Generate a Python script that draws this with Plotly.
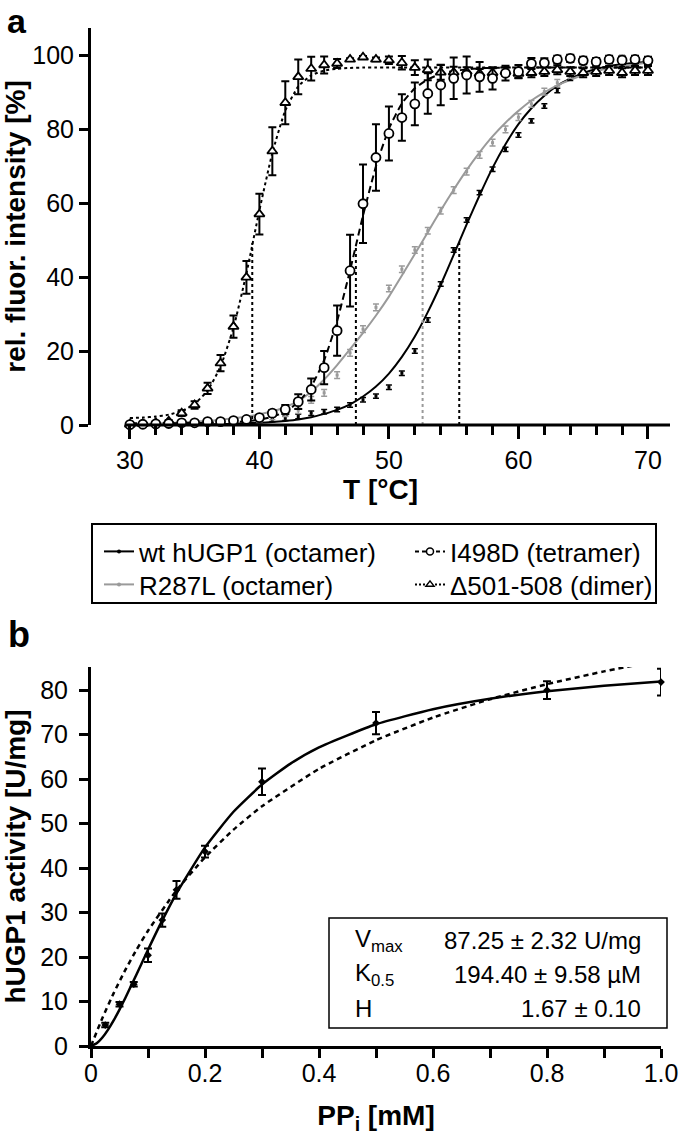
import plotly.graph_objects as go

# ---------------- data: panel a (thermal unfolding) ----------------
temps = list(range(30, 71))

wt_vals = [0.0, 0.1, 0.1, 0.2, 0.3, 0.4, 0.5, 0.6, 0.8, 1.0, 1.2, 1.5,
           1.8, 2.3, 3.2, 3.6, 4.2, 5.4, 6.8, 7.8, 10.2, 14.0, 20.0, 28.4,
           38.1, 47.3, 55.4, 62.8, 69.1, 74.5, 78.4, 82.2, 86.2, 90.4, 93.7, 96.1,
           97.7, 98.8, 97.5, 98.2, 97.4]
wt_err = [0.6] * 41

r287_vals = [0.0, 0.1, 0.2, 0.3, 0.5, 0.6, 0.8, 1.0, 1.1, 1.3, 1.6, 2.3,
             3.2, 4.0, 6.8, 8.7, 13.5, 19.5, 25.9, 31.8, 36.9, 42.1, 47.3, 52.5,
             57.9, 63.5, 68.5, 73.0, 76.3, 79.9, 83.2, 86.8, 90.1, 92.5, 94.6, 96.8,
             98.2, 98.6, 99.1, 98.6, 98.4]
r287_err = [0.9] * 41

i498_vals = [0.1, 0.2, 0.3, 0.4, 0.6, 0.6, 0.9, 0.9, 1.2, 1.5, 2.0, 3.2,
             4.2, 6.3, 9.6, 15.5, 25.5, 41.7, 59.8, 72.3, 78.8, 83.1, 86.8, 89.6,
             91.9, 93.7, 94.6, 94.1, 93.7, 95.1, 95.5, 97.7, 97.9, 98.8, 99.1, 98.5,
             98.2, 98.8, 98.6, 98.8, 98.5]
i498_err = [0.3, 0.3, 0.3, 0.3, 0.3, 0.3, 0.3, 0.3, 0.3, 0.3, 0.6, 0.8,
            1.2, 2.0, 3.0, 4.5, 6.8, 9.7, 10.6, 9.0, 7.3, 6.3, 5.8, 5.5,
            5.5, 5.6, 5.0, 4.0, 3.0, 2.0, 1.8, 1.5, 1.2, 1.0, 1.0, 1.0,
            1.0, 1.0, 1.0, 1.0, 1.0]

del_vals = [0.2, 0.3, 0.6, 1.0, 3.2, 5.4, 9.9, 16.7, 26.6, 39.9, 57.0, 74.0,
            87.1, 94.1, 96.3, 97.3, 97.7, 98.8, 99.4, 98.8, 98.6, 97.9, 96.6, 96.0,
            95.3, 95.3, 95.5, 95.0, 95.2, 95.5, 95.0, 95.2, 95.5, 96.0, 95.5, 95.2,
            95.5, 95.8, 95.2, 95.8, 95.8]
del_err = [0.3, 0.3, 0.3, 0.3, 0.8, 1.0, 1.5, 2.2, 3.0, 4.4, 5.5, 6.5,
           5.8, 4.7, 3.2, 2.3, 1.2, 0.3, 0.3, 0.5, 1.0, 1.8, 2.0, 2.8,
           2.0, 1.5, 1.2, 1.2, 1.2, 1.2, 1.2, 1.2, 1.2, 1.2, 1.2, 1.2,
           1.2, 1.2, 1.2, 1.2, 1.2]

# fitted curves (one value per degree)
wt_fit = [0.02, 0.03, 0.05, 0.07, 0.1, 0.13, 0.18, 0.25, 0.33, 0.45, 0.6, 0.8,
          1.1, 1.5, 2.1, 3.0, 4.1, 5.6, 7.7, 10.4, 13.9, 18.4, 23.9, 30.5,
          37.9, 46.0, 54.2, 62.1, 69.5, 75.9, 81.3, 85.6, 89.0, 91.7, 93.6, 95.1,
          96.2, 97.0, 97.5, 97.9, 98.2]
r287_fit = [0.2, 0.3, 0.4, 0.5, 0.7, 0.9, 1.1, 1.4, 1.8, 2.3, 2.9, 3.7,
            4.8, 6.5, 9.0, 12.3, 16.2, 20.5, 24.9, 29.6, 34.7, 40.4, 46.2, 52.1,
            58.0, 63.6, 68.9, 73.7, 78.0, 81.7, 84.9, 87.7, 89.9, 91.8, 93.3, 94.6,
            95.6, 96.4, 97.0, 97.5, 97.9]
i498_fit = [0.5, 0.5, 0.5, 0.5, 0.5, 0.55, 0.6, 0.7, 0.8, 1.0, 1.4, 2.2,
            3.6, 6.1, 10.4, 17.5, 28.1, 41.8, 56.6, 69.9, 80.1, 86.9, 91.0, 93.4,
            94.9, 95.7, 96.1, 96.4, 96.5, 96.6, 96.6, 96.6, 96.6, 96.6, 96.6, 96.6,
            96.6, 96.6, 96.6, 96.6, 96.6]
del_fit = [1.9, 2.0, 2.3, 2.8, 3.8, 5.7, 9.3, 15.8, 26.3, 41.0, 58.0, 73.5,
           85.0, 91.5, 94.5, 95.8, 96.3, 96.5, 96.6, 96.6, 96.6, 96.6, 96.6, 96.6,
           96.6, 96.6, 96.6, 96.6, 96.6, 96.6, 96.6, 96.6, 96.6, 96.6, 96.6, 96.6,
           96.6, 96.6, 96.6, 96.6, 96.6]

# melting temperatures (vertical dotted lines) and half-height of each fit
tm_vals = [55.43, 52.6, 47.45, 39.45]
tm_half = [49.5, 49.7, 48.5, 49.2]

legend_names = ["wt hUGP1 (octamer)", "I498D (tetramer)", "R287L (octamer)", "Δ501-508 (dimer)"]

a_xticks = [30, 40, 50, 60, 70]
a_xminor = [32, 34, 36, 38, 42, 44, 46, 48, 52, 54, 56, 58, 62, 64, 66, 68]
a_yticks = [0, 20, 40, 60, 80, 100]

# ---------------- data: panel b (kinetics) ----------------
ppi = [0.025, 0.05, 0.075, 0.1, 0.125, 0.15, 0.2, 0.3, 0.5, 0.8, 1.0]
activity = [4.7, 9.4, 13.9, 20.4, 28.3, 35.1, 43.7, 59.4, 72.6, 80.0, 81.8]
activity_err = [0.5, 0.5, 0.5, 1.5, 1.5, 2.0, 1.3, 3.0, 2.5, 2.0, 3.0]

hill_x = [0, 0.01, 0.02, 0.03, 0.04, 0.05, 0.06, 0.08, 0.1, 0.12, 0.15, 0.2,
          0.25, 0.3, 0.35, 0.4, 0.5, 0.6, 0.7, 0.8, 0.9, 1.0]
hill_y = [0, 0.61, 1.91, 3.69, 5.81, 8.18, 10.74, 16.14, 21.62, 26.94, 34.32, 44.65,
          52.66, 58.77, 63.47, 67.13, 72.32, 75.72, 78.06, 79.74, 80.98, 81.93]
mm_x = [0, 0.02, 0.04, 0.06, 0.08, 0.1, 0.15, 0.2, 0.25, 0.3, 0.4, 0.5,
        0.6, 0.7, 0.8, 0.9, 0.95]
mm_y = [0, 6.29, 11.94, 17.05, 21.68, 25.90, 34.99, 42.42, 48.63, 53.89, 62.30, 68.74,
        73.83, 77.95, 81.35, 84.22, 85.48]

b_xticks = [0, 0.2, 0.4, 0.6, 0.8, 1.0]
b_xticktext = ["0", "0.2", "0.4", "0.6", "0.8", "1.0"]
b_xminor = [0.1, 0.3, 0.5, 0.7, 0.9]
b_yticks = [0, 10, 20, 30, 40, 50, 60, 70, 80]

box_labels = ["V<sub>max</sub>", "K<sub>0.5</sub>", "H"]
box_values = ["87.25 ± 2.32 U/mg", "194.40 ± 9.58 µM", "1.67 ± 0.10"]

# ---------------- figure ----------------
W, H = 685, 1138
FONT = "Liberation Sans, Arial, Helvetica, sans-serif"
GRAY = "#9a9a9a"
DASH = "7px,4px"
DOT = "3px,3px"


def fx(p):
    return p / W


def fy(p):
    return 1 - p / H


fig = go.Figure()

# fit curves (panel a)
for ys, col, dash in [(wt_fit, "black", "solid"), (r287_fit, GRAY, "solid"),
                      (i498_fit, "black", DASH), (del_fit, "black", DOT)]:
    fig.add_trace(go.Scatter(x=temps, y=ys, mode="lines", xaxis="x", yaxis="y",
                             line=dict(color=col, width=2, dash=dash, shape="spline", smoothing=0.5),
                             showlegend=False, hoverinfo="skip"))

# Tm reference lines
for t, h, col in zip(tm_vals, tm_half, ["black", GRAY, "black", "black"]):
    fig.add_trace(go.Scatter(x=[t, t], y=[0, h], mode="lines", xaxis="x", yaxis="y",
                             line=dict(color=col, width=2, dash=DOT),
                             showlegend=False, hoverinfo="skip"))

# data points (panel a)
fig.add_trace(go.Scatter(x=temps, y=wt_vals, mode="markers", xaxis="x", yaxis="y",
                         marker=dict(symbol="square", size=3, color="black"),
                         error_y=dict(type="data", array=wt_err, color="black", thickness=1.5, width=3),
                         showlegend=False, cliponaxis=False))
fig.add_trace(go.Scatter(x=temps, y=r287_vals, mode="markers", xaxis="x", yaxis="y",
                         marker=dict(symbol="square", size=3, color=GRAY),
                         error_y=dict(type="data", array=r287_err, color=GRAY, thickness=1.5, width=3),
                         showlegend=False, cliponaxis=False))
fig.add_trace(go.Scatter(x=temps, y=del_vals, mode="markers", xaxis="x", yaxis="y",
                         marker=dict(symbol="triangle-up", size=9, color="white",
                                     line=dict(color="black", width=1.8)),
                         error_y=dict(type="data", array=del_err, color="black", thickness=2, width=4),
                         showlegend=False, cliponaxis=False))
fig.add_trace(go.Scatter(x=temps, y=i498_vals, mode="markers", xaxis="x", yaxis="y",
                         marker=dict(symbol="circle", size=9, color="white",
                                     line=dict(color="black", width=1.8)),
                         error_y=dict(type="data", array=i498_err, color="black", thickness=2, width=4),
                         showlegend=False, cliponaxis=False))

# legend entries: one small legend per cell of the 2x2 key, framed by one box
leg_styles = [
    dict(line=dict(color="black", width=2), marker=dict(symbol="circle", size=4, color="black")),
    dict(line=dict(color="black", width=2, dash="4px,3px"),
         marker=dict(symbol="circle", size=7, color="white", line=dict(color="black", width=1.5))),
    dict(line=dict(color=GRAY, width=2), marker=dict(symbol="circle", size=4, color=GRAY)),
    dict(line=dict(color="black", width=2, dash="2px,2px"),
         marker=dict(symbol="triangle-up", size=7, color="white", line=dict(color="black", width=1.5))),
]
legend_ids = ["legend", "legend2", "legend3", "legend4"]
legend_pos = [(99, 528), (410, 528), (99, 561), (410, 561)]
for name, st, lid in zip(legend_names, leg_styles, legend_ids):
    fig.add_trace(go.Scatter(x=[None], y=[None], mode="lines+markers", name=name,
                             xaxis="x", yaxis="y", legend=lid, **st))

# panel b
fig.add_trace(go.Scatter(x=mm_x, y=mm_y, mode="lines", xaxis="x2", yaxis="y2",
                         line=dict(color="black", width=2.5, dash="5px,4px", shape="spline", smoothing=0.5),
                         showlegend=False, hoverinfo="skip"))
fig.add_trace(go.Scatter(x=hill_x, y=hill_y, mode="lines", xaxis="x2", yaxis="y2",
                         line=dict(color="black", width=2.5, shape="spline", smoothing=0.5),
                         showlegend=False, hoverinfo="skip"))
fig.add_trace(go.Scatter(x=ppi, y=activity, mode="markers", xaxis="x2", yaxis="y2",
                         marker=dict(symbol="diamond", size=6, color="black"),
                         error_y=dict(type="data", array=activity_err, color="black", thickness=2, width=4),
                         showlegend=False, cliponaxis=False))

bold = dict(family=FONT, color="black", weight="bold")
axis_common = dict(showgrid=False, zeroline=False, ticks="outside", tickcolor="black",
                   tickwidth=3, automargin=False,
                   tickfont=dict(family=FONT, size=25, color="black"))

layout_legends = {}
for lid, (lx, ly) in zip(legend_ids, legend_pos):
    layout_legends[lid] = dict(orientation="v", x=fx(lx), xanchor="left", y=fy(ly), yanchor="top",
                               borderwidth=0, bgcolor="rgba(0,0,0,0)", itemwidth=30,
                               font=dict(family=FONT, size=26, color="black"))

fig.update_layout(
    template="none",
    width=W, height=H, margin=dict(l=0, r=0, t=0, b=0, pad=0),
    paper_bgcolor="white", plot_bgcolor="white",
    font=dict(family=FONT, size=25, color="black"),
    showlegend=True,
    xaxis=dict(domain=[fx(91), fx(670)], range=[27.0, 71.7], anchor="y",
               tickmode="array", tickvals=a_xticks, ticklen=13, showline=False,
               minor=dict(tickmode="array", tickvals=a_xminor, ticks="outside",
                          ticklen=9, tickwidth=3, tickcolor="black", showgrid=False),
               title=dict(text="T [°C]", font=dict(size=28, **bold), standoff=4),
               **axis_common),
    yaxis=dict(domain=[fy(425), fy(28)], range=[0, 107.3], anchor="x",
               tickmode="array", tickvals=a_yticks, ticklen=9,
               showline=True, linewidth=3, linecolor="black",
               title=dict(text="rel. fluor. intensity [%]", font=dict(size=28, **bold), standoff=2),
               **axis_common),
    xaxis2=dict(domain=[fx(91), fx(661)], range=[0, 1.0], anchor="y2",
                tickmode="array", tickvals=b_xticks, ticktext=b_xticktext, ticklen=9,
                ticklabelstandoff=-6,
                showline=True, linewidth=3, linecolor="black",
                minor=dict(tickmode="array", tickvals=b_xminor, ticks="outside",
                           ticklen=9, tickwidth=3, tickcolor="black", showgrid=False),
                title=dict(text="PP<sub>i</sub> [mM]", font=dict(size=28, **bold), standoff=20),
                **axis_common),
    yaxis2=dict(domain=[fy(1046), fy(667)], range=[0, 85.2], anchor="x2",
                tickmode="array", tickvals=b_yticks, ticklen=9,
                ticklabelstandoff=6,
                showline=True, linewidth=3, linecolor="black",
                title=dict(text="hUGP1 activity [U/mg]", font=dict(size=28, **bold), standoff=8),
                **axis_common),
    **layout_legends,
)

# frame around the key
fig.add_shape(type="rect", xref="paper", yref="paper",
              x0=fx(92), x1=fx(656), y0=fy(603), y1=fy(524),
              line=dict(color="black", width=2), fillcolor="rgba(0,0,0,0)")

# offset x-axis line of panel a (starts just left of 30 °C)
fig.add_shape(type="line", xref="x", yref="paper", x0=29.7, x1=71.7,
              y0=fy(425), y1=fy(425), line=dict(color="black", width=3))

# parameter box in panel b
fig.add_shape(type="rect", xref="paper", yref="paper",
              x0=fx(329), x1=fx(667), y0=fy(1028), y1=fy(918),
              line=dict(color="black", width=1.5), fillcolor="rgba(0,0,0,0)")
for i, (lab, val) in enumerate(zip(box_labels, box_values)):
    yc = fy(940 + 34 * i)
    fig.add_annotation(xref="paper", yref="paper", x=fx(353), y=yc, text=lab,
                       showarrow=False, xanchor="left", yanchor="middle",
                       font=dict(family=FONT, size=24, color="black"))
    fig.add_annotation(xref="paper", yref="paper", x=fx(643), y=yc, text=val,
                       showarrow=False, xanchor="right", yanchor="middle",
                       font=dict(family=FONT, size=24, color="black"))

# panel letters
fig.add_annotation(xref="paper", yref="paper", x=fx(17), y=1.0, text="a",
                   showarrow=False, xanchor="center", yanchor="top", font=dict(size=34, **bold))
fig.add_annotation(xref="paper", yref="paper", x=fx(19), y=fy(634), text="b",
                   showarrow=False, xanchor="center", yanchor="middle", font=dict(size=36, **bold))

# page body has a default 8px margin; remove it so the figure sits at the window origin
fig.write_html("out.html", config={"displayModeBar": False},
               post_script="document.body.style.margin='0px';")
